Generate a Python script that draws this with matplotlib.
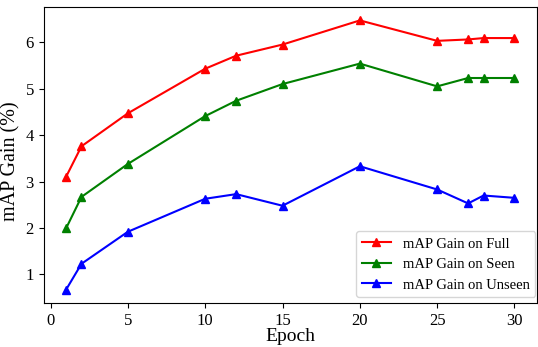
import matplotlib
matplotlib.use("Agg")
import matplotlib.pyplot as plt

plt.rcParams['font.family'] = ['Liberation Serif', 'DejaVu Serif']

# 數據
epochs = [1, 2, 5, 10, 12, 15, 20, 25, 27, 28, 30]
gain_full = [3.10, 3.76, 4.47, 5.43, 5.71, 5.95, 6.47, 6.03, 6.06, 6.09, 6.09]
gain_seen = [1.99, 2.67, 3.38, 4.41, 4.74, 5.10, 5.54, 5.05, 5.23, 5.23, 5.23]
gain_unseen = [0.67, 1.23, 1.92, 2.63, 2.73, 2.48, 3.33, 2.83, 2.53, 2.70, 2.65]

fig = plt.figure(figsize=(5.38, 3.47), dpi=100)
ax = fig.add_axes([0.081, 0.126, 0.917, 0.854])

ax.plot(epochs, gain_full, marker='^', color='red', label='mAP Gain on Full')
ax.plot(epochs, gain_seen, marker='^', color='green', label='mAP Gain on Seen')
ax.plot(epochs, gain_unseen, marker='^', color='blue', label='mAP Gain on Unseen')

ax.set_xlabel('Epoch', fontsize=14, labelpad=-1)
ax.set_ylabel('mAP Gain (%)', fontsize=14.5)
ax.yaxis.set_label_coords(-0.046, 0.48)
ax.tick_params(labelsize=12)
ax.tick_params(axis='y', pad=3.5)
ax.legend(loc='lower right', fontsize=10.5, bbox_to_anchor=(0.997, 0.02),
          borderaxespad=0)

fig.savefig('out.png', dpi=100)
